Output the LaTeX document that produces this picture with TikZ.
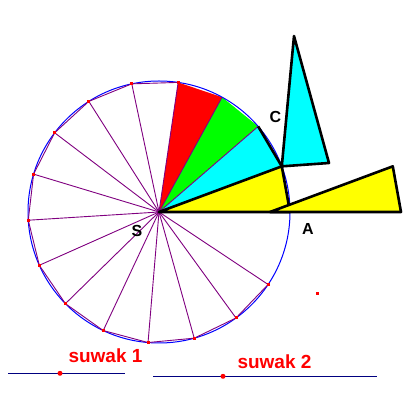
\documentclass[tikz,border=0pt]{standalone}
\usepackage{fontspec}
\setmainfont{Liberation Sans}
\usetikzlibrary{calc}
\definecolor{spoke}{RGB}{128,0,128}
\definecolor{navyline}{RGB}{0,0,128}
\definecolor{aqua}{RGB}{0,255,255}
\definecolor{lime}{RGB}{0,255,0}
\definecolor{yel}{RGB}{255,255,0}
\begin{document}
\begin{tikzpicture}[x=1pt,y=1pt,
  thinp/.style={draw=spoke,line width=0.9pt},
  thickb/.style={draw=black,line width=2.6pt,line join=round},
  lbl/.style={font=\fontsize{16}{16}\selectfont\bfseries,text=black,inner sep=0pt},
  sl/.style={font=\fontsize{19}{19}\selectfont\bfseries,text=red,inner sep=0pt,anchor=base},
  vdot/.style={fill=red,inner sep=0pt,minimum size=3pt,rectangle},
  sdot/.style={fill=red,circle,inner sep=0pt,minimum size=5pt},
  slider/.style={draw=navyline,line width=1pt}]
\useasboundingbox (0,0) rectangle (413,415);
\fill[white] (0,0) rectangle (413,415);
\coordinate (S) at (159,203);
\foreach \k in {0,...,16}{
  \coordinate (P\k) at ($(S)+(\k*20.4:131)$);
}
% colored sectors
\fill[red] (S) -- (P3) -- (P4) -- cycle;
\fill[lime] (S) -- (P2) -- (P3) -- cycle;
\fill[aqua] (S) -- (P1) -- (P2) -- cycle;
\fill[yel] (S) -- (P0) -- (P1) -- cycle;
% circle
\draw[blue,line width=1pt] (S) circle (131);
% purple spokes and chords
\foreach \k in {5,...,16}{ \draw[thinp] (S) -- (P\k); }
\foreach \k [evaluate=\k as \n using int(\k+1)] in {4,...,15}{ \draw[thinp] (P\k) -- (P\n); }
\draw[thinp] (S) -- (P4);
\draw[thinp] (S) -- (P3);
\draw[thinp] (S) -- (P2);
\foreach \k in {4,...,16}{ \node[vdot] at (P\k) {}; }
% outlines
\draw[thickb] (P2) -- (P1);
\draw[thickb] (S) -- (P1) -- (P0) -- cycle;
% yellow copy
\coordinate (Y0) at ($(S)+(111,0)$);
\coordinate (Y1) at ($(P0)+(111,0)$);
\coordinate (Y2) at ($(P1)+(111,0)$);
\filldraw[fill=yel,thickb] (Y0) -- (Y1) -- (Y2) -- cycle;
% cyan copy
\coordinate (T0) at (294,379);
\coordinate (T2) at (329,252);
\filldraw[fill=aqua,thickb] (T0) -- (P1) -- (T2) -- cycle;
% labels
\node[lbl] (labC) at (275.5,298.5) {C};
\node[lbl] (labA) at (308,186.5) {A};
\node[lbl] (labS) at (137,184) {S};
\node[vdot] (rd) at (317,121) {};
% sliders
\coordinate (a1) at (8,41.7);
\coordinate (b1) at (125,41.7);
\draw[slider] (a1) -- (b1);
\node[sdot] (d1) at (60,41.7) {};
\node[sl] (s1) at (105.5,52) {suwak 1};
\coordinate (a2) at (153,38.7);
\coordinate (b2) at (377,38.7);
\draw[slider] (a2) -- (b2);
\node[sdot] (d2) at (223,38.7) {};
\node[sl] (s2) at (274.5,46) {suwak 2};
\end{tikzpicture}
\end{document}
